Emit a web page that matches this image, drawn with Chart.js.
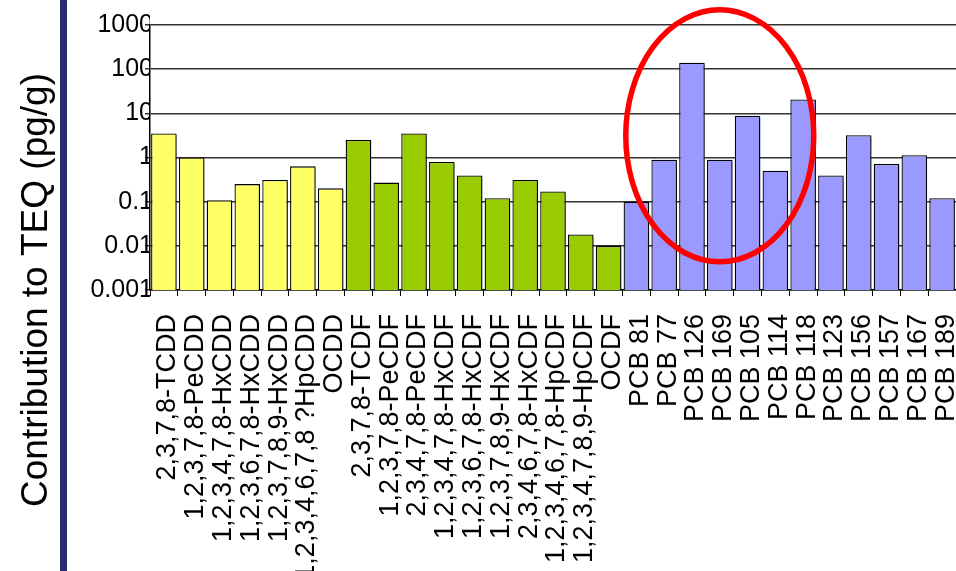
<!DOCTYPE html>
<html>
<head>
<meta charset="utf-8">
<script src="https://cdn.jsdelivr.net/npm/chart.js@4/dist/chart.umd.min.js"></script>
<style>
html,body{margin:0;padding:0;background:#fff;}
#wrap{position:relative;width:956px;height:571px;}
</style>
</head>
<body>
<div id="wrap"><canvas id="c" width="956" height="571"></canvas></div>
<script>
const dioxinLabels = ["2,3,7,8-TCDD","1,2,3,7,8-PeCDD","1,2,3,4,7,8-HxCDD","1,2,3,6,7,8-HxCDD","1,2,3,7,8,9-HxCDD","1,2,3,4,6,7,8 ?HpCDD","OCDD"];
const dioxinValues = [3.5, 1.0, 0.108, 0.25, 0.31, 0.63, 0.2];

const furanLabels = ["2,3,7,8-TCDF","1,2,3,7,8-PeCDF","2,3,4,7,8-PeCDF","1,2,3,4,7,8-HxCDF","1,2,3,6,7,8-HxCDF","1,2,3,7,8,9-HxCDF","2,3,4,6,7,8-HxCDF","1,2,3,4,6,7,8-HpCDF","1,2,3,4,7,8,9-HpCDF","OCDF"];
const furanValues = [2.5, 0.27, 3.5, 0.79, 0.39, 0.12, 0.31, 0.17, 0.018, 0.01];

const pcbLabels = ["PCB 81","PCB 77","PCB 126","PCB 169","PCB 105","PCB 114","PCB 118","PCB 123","PCB 156","PCB 157","PCB 167","PCB 189"];
const pcbValues = [0.1, 0.89, 140, 0.89, 8.8, 0.5, 20.6, 0.39, 3.2, 0.71, 1.13, 0.12];

const yTickValues = [0.001, 0.01, 0.1, 1, 10, 100, 1000];
const yTickLabels = ["0.001","0.01","0.1","1","10","100","1000"];
const yTitle = "Contribution to TEQ (pg/g)";
const highlightCategory = "PCB 169";
const highlightValue = 3.1;

const categories = dioxinLabels.concat(furanLabels, pcbLabels);
const nD = dioxinLabels.length, nF = furanLabels.length, nP = pcbLabels.length;
function pad(vals, before, after){
  return Array(before).fill(null).concat(vals, Array(after).fill(null));
}

const decor = {
  id: 'decor',
  beforeDraw(chart){
    const ctx = chart.ctx;
    ctx.save();
    ctx.fillStyle = '#fff';
    ctx.fillRect(0,0,chart.width,chart.height);
    ctx.fillStyle = '#2b2b72';
    ctx.fillRect(60,0,7,chart.height);
    ctx.translate(37, 290);
    ctx.rotate(-Math.PI/2);
    ctx.fillStyle = '#000';
    ctx.font = '37px "Liberation Sans", Arial, sans-serif';
    ctx.textAlign = 'center';
    ctx.textBaseline = 'middle';
    ctx.fillText(yTitle, 0, 0);
    ctx.restore();
  },
  beforeDatasetsDraw(chart){
    const ctx = chart.ctx;
    ctx.save();
    ctx.shadowColor = 'rgba(0,0,0,0.35)';
    ctx.shadowOffsetX = 2;
    ctx.shadowOffsetY = 2;
    ctx.shadowBlur = 0;
  },
  afterDatasetsDraw(chart){
    const ctx = chart.ctx;
    ctx.restore();
    const xs = chart.scales.x, ys = chart.scales.y;
    const cx = xs.getPixelForValue(categories.indexOf(highlightCategory));
    const cy = ys.getPixelForValue(highlightValue);
    ctx.save();
    ctx.strokeStyle = '#ff0000';
    ctx.lineWidth = 5.5;
    ctx.beginPath();
    ctx.ellipse(cx, cy, 94, 126, 0, 0, Math.PI*2);
    ctx.stroke();
    ctx.restore();
  }
};

const common = {borderColor:'#000', borderWidth:1.3, barPercentage:0.92, categoryPercentage:1.0, grouped:false};

new Chart(document.getElementById('c'), {
  type: 'bar',
  data: {
    labels: categories,
    datasets: [
      Object.assign({label:'PCDD', data: pad(dioxinValues, 0, nF+nP), backgroundColor:'#ffff66'}, common),
      Object.assign({label:'PCDF', data: pad(furanValues, nD, nP), backgroundColor:'#99cc00'}, common),
      Object.assign({label:'PCB', data: pad(pcbValues, nD+nF, 0), backgroundColor:'#9999ff'}, common)
    ]
  },
  options: {
    responsive: false,
    animation: false,
    layout: {padding: {top: 25, left: 0, right: 0, bottom: 0}},
    plugins: {legend: {display:false}, tooltip: {enabled:false}},
    scales: {
      x: {
        type: 'category',
        grid: {display:true, drawOnChartArea:false, drawTicks:true, tickLength:6, color:'#000', offset:true},
        border: {display:true, color:'#000', width:1.5},
        ticks: {
          autoSkip:false, maxRotation:90, minRotation:90, padding:18, labelOffset:4,
          color:'#000', font:{family:'"Liberation Sans", Arial, sans-serif', size:27}
        },
        afterFit(s){ s.height = 281; s.paddingLeft = 0; s.paddingRight = 0; }
      },
      y: {
        type: 'logarithmic',
        min: 0.001, max: 1000,
        afterBuildTicks(s){ s.ticks = yTickValues.map(v => ({value:v})); },
        grid: {display:true, drawOnChartArea:true, drawTicks:true, tickLength:5, color:'#333', lineWidth:1.5},
        border: {display:true, color:'#000', width:1.5},
        ticks: {
          padding:-8, color:'#000',
          font:{family:'"Liberation Sans", Arial, sans-serif', size:25},
          callback(v){ const i = yTickValues.indexOf(v); return i >= 0 ? yTickLabels[i] : ''; }
        },
        afterFit(s){ s.width = 150; s.paddingTop = 0; s.paddingBottom = 0; }
      }
    }
  },
  plugins: [decor]
});
</script>
</body>
</html>
